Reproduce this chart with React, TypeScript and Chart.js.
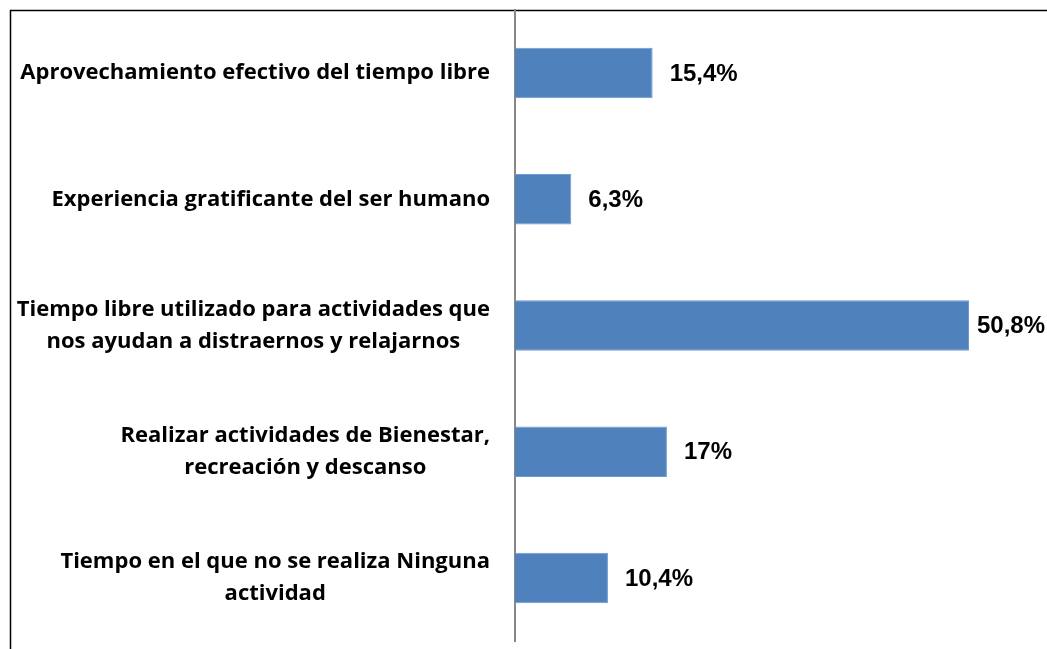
import React, { useEffect, useRef } from "react";
import { Chart, registerables } from "chart.js";

Chart.register(...registerables);

const categories: string[][] = [
  ["Aprovechamiento efectivo del tiempo libre"],
  ["Experiencia gratificante del ser humano"],
  ["Tiempo libre utilizado para actividades que", "nos ayudan a distraernos y relajarnos"],
  ["Realizar actividades de Bienestar,", "recreación y descanso"],
  ["Tiempo en el que no se realiza Ninguna", "actividad"],
];
const values: number[] = [15.4, 6.3, 50.8, 17, 10.4];
const valueLabels: string[] = ["15,4%", "6,3%", "50,8%", "17%", "10,4%"];

const LABEL_FONT = "bold 22px 'Open Sans', 'Noto Sans', sans-serif";
const VALUE_FONT = "bold 24px 'Liberation Sans', Arial, sans-serif";

const framePlugin = {
  id: "frame",
  beforeDraw(chart: any) {
    const ctx = chart.ctx;
    ctx.save();
    ctx.strokeStyle = "#000";
    ctx.lineWidth = 1.5;
    ctx.beginPath();
    ctx.moveTo(10.5, chart.height);
    ctx.lineTo(10.5, 10.5);
    ctx.lineTo(chart.width, 10.5);
    ctx.stroke();
    ctx.restore();
  },
};

const labelsPlugin = {
  id: "customLabels",
  afterDatasetsDraw(chart: any) {
    const ctx = chart.ctx;
    const yScale = chart.scales.y;
    const meta = chart.getDatasetMeta(0);
    ctx.save();
    ctx.fillStyle = "#000";
    ctx.textBaseline = "middle";
    ctx.font = LABEL_FONT;
    const lineH = 32;
    categories.forEach((lines, i) => {
      const cy = yScale.getPixelForValue(i);
      const maxW = Math.max(...lines.map((l) => ctx.measureText(l).width));
      const right = chart.chartArea.left - 25;
      const cx = right - maxW / 2;
      ctx.textAlign = "center";
      const startY = cy - ((lines.length - 1) * lineH) / 2;
      lines.forEach((l, j) => ctx.fillText(l, cx, startY + j * lineH));
    });
    ctx.font = VALUE_FONT;
    ctx.textAlign = "left";
    meta.data.forEach((bar: any, i: number) => {
      const txt = valueLabels[i];
      const w = ctx.measureText(txt).width;
      let x = bar.x + 17;
      if (x + w > chart.width - 2) x = chart.width - 2 - w;
      ctx.fillText(txt, x, bar.y + 1);
    });
    ctx.restore();
  },
};

export default function App() {
  const ref = useRef<HTMLCanvasElement>(null);
  useEffect(() => {
    if (!ref.current) return;
    const chart = new Chart(ref.current, {
      type: "bar",
      data: {
        labels: categories,
        datasets: [
          {
            data: values,
            backgroundColor: "#4F81BD",
            borderColor: "#6f9ad0",
            borderWidth: 1,
            barPercentage: 0.4,
            categoryPercentage: 1,
          },
        ],
      },
      options: {
        indexAxis: "y",
        animation: false,
        responsive: false,
        maintainAspectRatio: false,
        layout: { padding: { left: 0, top: 10, bottom: 8, right: 31.5 } },
        plugins: { legend: { display: false }, tooltip: { enabled: false } },
        scales: {
          x: { display: false, min: 0, max: 56 },
          y: {
            grid: { display: false },
            ticks: { display: false },
            border: { display: true, color: "#888888", width: 2 },
            afterFit: (s: any) => {
              s.width = 515;
            },
          },
        },
      },
      plugins: [framePlugin, labelsPlugin],
    });
    return () => chart.destroy();
  }, []);
  return (
    <div style={{ position: "fixed", left: 0, top: 0, width: 1047, height: 649, background: "#fff" }}>
      <canvas ref={ref} width={1047} height={649} style={{ display: "block" }} />
    </div>
  );
}
